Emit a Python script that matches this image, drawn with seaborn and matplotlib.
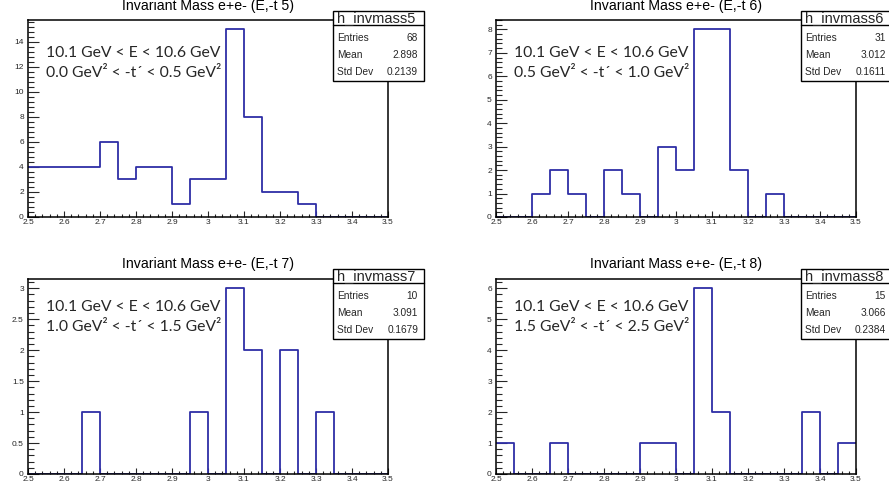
import numpy as np
import pandas as pd
import matplotlib
matplotlib.use("Agg")
import matplotlib.pyplot as plt
import seaborn as sns
from matplotlib.ticker import MultipleLocator, AutoMinorLocator, FuncFormatter
from matplotlib.patches import Rectangle

# ---------------- data ----------------
x_min, x_max, n_bins = 2.5, 3.5, 20
counts5 = [4, 4, 4, 4, 6, 3, 4, 4, 1, 3, 3, 15, 8, 2, 2, 1, 0, 0, 0, 0]
counts6 = [0, 0, 1, 2, 1, 0, 2, 1, 0, 3, 2, 8, 8, 2, 0, 1, 0, 0, 0, 0]
counts7 = [0, 0, 0, 1, 0, 0, 0, 0, 0, 1, 0, 3, 2, 0, 2, 0, 1, 0, 0, 0]
counts8 = [1, 0, 0, 1, 0, 0, 0, 0, 1, 1, 0, 6, 2, 0, 0, 0, 0, 2, 0, 1]
titles = ["Invariant Mass e+e- (E,-t 5)", "Invariant Mass e+e- (E,-t 6)",
          "Invariant Mass e+e- (E,-t 7)", "Invariant Mass e+e- (E,-t 8)"]
hist_names = ["h_invmass5", "h_invmass6", "h_invmass7", "h_invmass8"]
entries = ["68", "31", "10", "15"]
means = ["2.898", "3.012", "3.091", "3.066"]
stddevs = ["0.2139", "0.1611", "0.1679", "0.2384"]
energy_label = "10.1 GeV < E < 10.6 GeV"
t_labels = ["0.0 GeV\u00b2 < -t\u00b4 < 0.5 GeV\u00b2",
            "0.5 GeV\u00b2 < -t\u00b4 < 1.0 GeV\u00b2",
            "1.0 GeV\u00b2 < -t\u00b4 < 1.5 GeV\u00b2",
            "1.5 GeV\u00b2 < -t\u00b4 < 2.5 GeV\u00b2"]
y_major = [2, 1, 0.5, 1]

# ---------------- layout ----------------
W, H = 889, 495
sns.set_style("white")
plt.rcParams["font.family"] = ["Liberation Sans", "DejaVu Sans"]
fig = plt.figure(figsize=(W / 100, H / 100), dpi=100)

line_color = "#2e2ea6"
all_counts = [counts5, counts6, counts7, counts8]
ax_px = [(28, 20, 360, 197), (496, 20, 360, 197),
         (28, 279, 360, 195), (496, 279, 360, 195)]
title_y = [6, 6, 264, 264]
box_top = [11, 11, 269, 269]
text_y = [(53, 73), (53, 73), (307, 327), (307, 327)]

bin_w = (x_max - x_min) / n_bins
centers = x_min + bin_w * (np.arange(n_bins) + 0.5)


def fx(px):
    return px / W


def fy(py):
    return 1 - py / H


for i in range(4):
    l, t, w, h = ax_px[i]
    ax = fig.add_axes([fx(l), fy(t + h), w / W, h / H])
    df = pd.DataFrame({"mass": centers, "n": all_counts[i]})
    sns.histplot(data=df, x="mass", weights="n", bins=n_bins, binrange=(x_min, x_max),
                 element="step", fill=False, color=line_color, linewidth=1.3, ax=ax)
    ax.set_xlim(x_min, x_max)
    ax.set_ylim(0, 1.05 * max(all_counts[i]))
    ax.set_xlabel("")
    ax.set_ylabel("")
    for s in ax.spines.values():
        s.set_color("black")
        s.set_linewidth(1.1)
    ax.xaxis.set_major_locator(MultipleLocator(0.1))
    ax.xaxis.set_minor_locator(AutoMinorLocator(5))
    ax.yaxis.set_major_locator(MultipleLocator(y_major[i]))
    ax.yaxis.set_minor_locator(AutoMinorLocator(5))
    fmt = FuncFormatter(lambda v, p: "%g" % round(v, 6))
    ax.xaxis.set_major_formatter(fmt)
    ax.yaxis.set_major_formatter(fmt)
    ax.tick_params(axis="x", which="major", direction="in", length=4.3, width=0.8,
                   labelsize=6, pad=1.5, bottom=True, top=False)
    ax.tick_params(axis="x", which="minor", direction="in", length=2.2, width=0.8,
                   bottom=True, top=False)
    ax.tick_params(axis="y", which="major", direction="in", length=8, width=0.8,
                   labelsize=6, pad=3, left=True, right=False)
    ax.tick_params(axis="y", which="minor", direction="in", length=4, width=0.8,
                   left=True, right=False)
    ax.patch.set_facecolor("white")

    fig.text(fx(l + w / 2), fy(title_y[i]), titles[i], ha="center", va="center",
             fontsize=10.2, color="black")
    fig.text(fx(l + 18), fy(text_y[i][0]), energy_label, ha="left", va="center",
             fontsize=11.3, family=["Lato", "DejaVu Sans"])
    fig.text(fx(l + 18), fy(text_y[i][1]), t_labels[i], ha="left", va="center",
             fontsize=11.3, family=["Lato", "DejaVu Sans"])

    bl = l + w - 55
    bw = 91
    bt = box_top[i]
    bh = 70
    rect = Rectangle((fx(bl), fy(bt + bh)), bw / W, bh / H, transform=fig.transFigure,
                     facecolor="white", edgecolor="black", linewidth=1.0, zorder=5)
    fig.patches.append(rect)
    fig.add_artist(plt.Line2D([fx(bl), fx(bl + bw)], [fy(bt + 14), fy(bt + 14)],
                              transform=fig.transFigure, color="black", linewidth=1.0, zorder=6))
    fig.text(fx(bl + 4), fy(bt + 7.5), hist_names[i], ha="left", va="center",
             fontsize=10.5, zorder=7)
    rows = [("Entries", entries[i]), ("Mean", means[i]), ("Std Dev", stddevs[i])]
    for k, (lab, val) in enumerate(rows):
        yy = bt + 27 + 17 * k
        fig.text(fx(bl + 4), fy(yy), lab, ha="left", va="center", fontsize=7.3, zorder=7)
        fig.text(fx(bl + bw - 6), fy(yy), val, ha="right", va="center", fontsize=7.3, zorder=7)

fig.savefig("out.png", dpi=100, facecolor="white")
